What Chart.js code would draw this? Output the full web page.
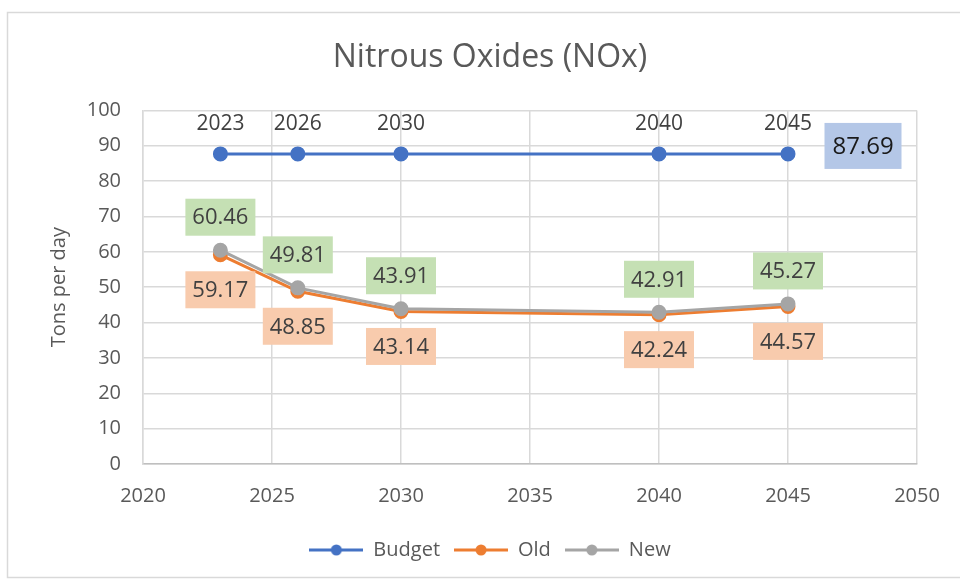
<!DOCTYPE html>
<html>
<head>
<meta charset="utf-8">
<script src="https://cdn.jsdelivr.net/npm/chart.js@4.4.1/dist/chart.umd.min.js"></script>
<style>
  html, body { margin: 0; padding: 0; background: #ffffff; overflow: hidden; width: 960px; height: 581px; }
  #wrap { position: absolute; left: 0; top: 0; width: 982px; height: 581px; }
</style>
</head>
<body>
<div id="wrap"><canvas id="c" width="982" height="581"></canvas></div>
<script>
// ---- data ----
const years = [2023, 2026, 2030, 2040, 2045];
const budgetValues = [87.69, 87.69, 87.69, 87.69, 87.69];
const oldValues = [59.17, 48.85, 43.14, 42.24, 44.57];
const newValues = [60.46, 49.81, 43.91, 42.91, 45.27];
const seriesNames = ['Budget', 'Old', 'New'];
const xTickRange = [2020, 2050, 5];
const yTickRange = [0, 100, 10];

// ---- styles ----
const COLORS = { Budget: '#4472C4', Old: '#ED7D31', New: '#A5A5A5' };
const TEXT = '#595959';
const LABEL_TEXT = '#404040';
const FONT = "'Open Sans', 'Noto Sans', sans-serif";

function legendSymbol(color) {
  const c = document.createElement('canvas');
  c.width = 54; c.height = 14;
  const g = c.getContext('2d');
  g.strokeStyle = color; g.lineWidth = 3;
  g.beginPath(); g.moveTo(0, 7); g.lineTo(54, 7); g.stroke();
  g.fillStyle = color;
  g.beginPath(); g.arc(27, 7, 5.5, 0, Math.PI * 2); g.fill();
  return c;
}

function toPoints(vals) { return years.map((y, i) => ({ x: y, y: vals[i] })); }

const frame = {
  id: 'frame',
  beforeDraw(chart) {
    const ctx = chart.ctx;
    ctx.save();
    ctx.fillStyle = '#ffffff';
    ctx.fillRect(0, 0, chart.width, chart.height);
    ctx.strokeStyle = '#d9d9d9';
    ctx.lineWidth = 1.5;
    ctx.strokeRect(7.5, 12.5, 1000, 565);
    ctx.restore();
  }
};

// label styles per series
const labelStyle = {
  Year: { box: null, dx: 0, dy: -31, size: 21 },
  BudgetValue: { box: '#B4C7E7', w: 77, h: 46, dx: 75, dy: -8, color: '#1a1a1a', size: 24 },
  Old: { box: '#F8CBAD', w: 70, h: 37, dx: 0, dy: 35, size: 22 },
  New: { box: '#C5E0B4', w: 70, h: 37, dx: 0, dy: -33, size: 22 }
};

function drawLabel(ctx, st, px, py, text) {
  const cx = px + st.dx, cy = py + st.dy;
  if (st.box) {
    ctx.fillStyle = st.box;
    ctx.fillRect(cx - st.w / 2, cy - st.h / 2, st.w, st.h);
  }
  ctx.font = st.size + "px " + FONT;
  ctx.fillStyle = st.color || LABEL_TEXT;
  ctx.fillText(text, cx, cy + 1);
}

const dataLabels = {
  id: 'dataLabels',
  afterDatasetsDraw(chart) {
    const ctx = chart.ctx;
    ctx.save();
    ctx.textAlign = 'center';
    ctx.textBaseline = 'middle';
    chart.data.datasets.forEach((ds, i) => {
      const meta = chart.getDatasetMeta(i);
      meta.data.forEach((pt, j) => {
        const name = ds.label;
        if (name === 'Budget') {
          drawLabel(ctx, labelStyle.Year, pt.x, pt.y, String(ds.data[j].x));
          if (j === meta.data.length - 1) {
            drawLabel(ctx, labelStyle.BudgetValue, pt.x, pt.y, ds.data[j].y.toFixed(2));
          }
        } else {
          drawLabel(ctx, labelStyle[name], pt.x, pt.y, ds.data[j].y.toFixed(2));
        }
      });
    });
    ctx.restore();
  }
};

const datasets = [
  { label: seriesNames[0], data: toPoints(budgetValues) },
  { label: seriesNames[1], data: toPoints(oldValues) },
  { label: seriesNames[2], data: toPoints(newValues) }
].map(d => Object.assign({
  borderColor: COLORS[d.label],
  backgroundColor: COLORS[d.label],
  pointBackgroundColor: COLORS[d.label],
  pointBorderColor: COLORS[d.label],
  pointRadius: 6,
  pointHoverRadius: 6,
  borderWidth: 3,
  tension: 0,
  pointStyle: 'circle'
}, d));
datasets[0].order = 0;
datasets[1].order = 2;
datasets[2].order = 1;

new Chart(document.getElementById('c'), {
  type: 'line',
  data: { datasets },
  plugins: [frame, dataLabels],
  options: {
    responsive: false,
    animation: false,
    layout: { padding: { left: 63, right: 65, top: 0, bottom: 11 } },
    plugins: {
      title: {
        display: true,
        text: 'Nitrous Oxides (NOx)',
        color: TEXT,
        font: { family: FONT, size: 32, weight: 'normal' },
        padding: { top: 39, bottom: 33 }
      },
      legend: {
        position: 'bottom',
        labels: {
          usePointStyle: true,
          pointStyleWidth: 54,
          color: TEXT,
          font: { family: FONT, size: 20 },
          padding: 14,
          sort: (a, b) => a.datasetIndex - b.datasetIndex,
          generateLabels(chart) {
            return chart.data.datasets.map((ds, i) => ({
              text: ds.label,
              datasetIndex: i,
              pointStyle: legendSymbol(COLORS[ds.label]),
              fillStyle: COLORS[ds.label],
              strokeStyle: COLORS[ds.label],
              fontColor: TEXT,
              lineWidth: 0,
              hidden: false
            }));
          }
        }
      },
      tooltip: { enabled: false }
    },
    scales: {
      x: {
        type: 'linear',
        min: xTickRange[0], max: xTickRange[1],
        ticks: { stepSize: xTickRange[2], color: TEXT, font: { family: FONT, size: 20 }, padding: 20, callback: v => String(v) },
        grid: { color: '#d9d9d9', lineWidth: 1.5, drawTicks: false },
        border: { color: '#bfbfbf', width: 1.5 },
        afterFit: s => { s.height = 62; }
      },
      y: {
        min: yTickRange[0], max: yTickRange[1],
        ticks: { stepSize: yTickRange[2], color: TEXT, font: { family: FONT, size: 20 }, padding: 22 },
        grid: { color: '#d9d9d9', lineWidth: 1.5, drawTicks: false },
        border: { color: '#d9d9d9', width: 1.5 },
        title: { display: true, text: 'Tons per day', color: TEXT, font: { family: FONT, size: 20 }, padding: { top: -16, bottom: 0 } },
        afterFit: s => { s.width = 80; }
      }
    }
  }
});
</script>
</body>
</html>
